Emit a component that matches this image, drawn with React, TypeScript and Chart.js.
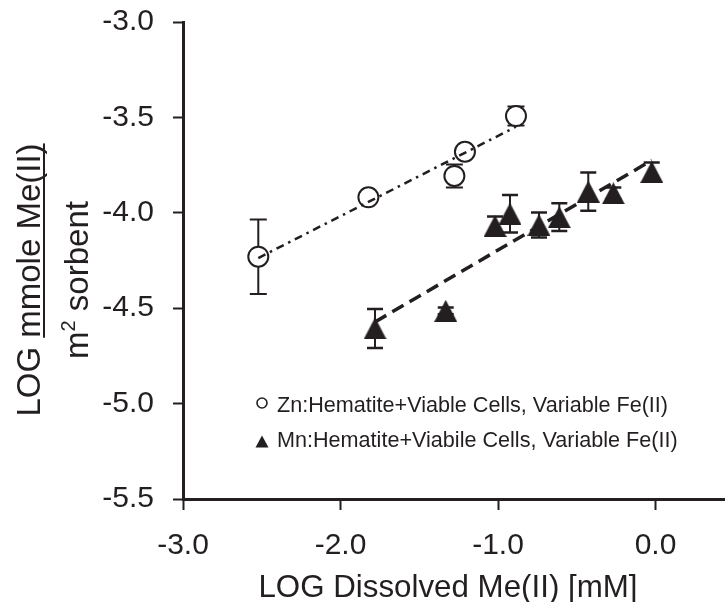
import React, { useEffect, useRef } from 'react';
import { Chart, registerables } from 'chart.js';

Chart.register(...registerables);

// ---------- data ----------
const ZN_X = [-2.522, -1.823, -1.277, -1.21, -0.886];
const ZN_Y = [-4.23, -3.919, -3.807, -3.68, -3.493];
const ZN_ERR = [0.195, 0, 0.06, 0, 0.05];

const MN_X = [-1.781, -1.332, -1.019, -0.924, -0.74, -0.611, -0.427, -0.268, -0.024];
const MN_Y = [-4.606, -4.514, -4.069, -4.005, -4.064, -4.023, -3.889, -3.898, -3.786];
const MN_ERR = [0.102, 0.018, 0.05, 0.098, 0.066, 0.073, 0.1, 0.03, 0.05];

// regression lines (end points)
const ZN_FIT_X = [-2.522, -0.886];
const ZN_FIT_Y = [-4.237, -3.549];
const MN_FIT_X = [-1.781, -0.024];
const MN_FIT_Y = [-4.572, -3.725];

const X_MIN = -3.0;
const X_MAX = 0.441;
const Y_MIN = -5.5;
const Y_MAX = -3.0;

const LEGEND_LABELS = [
  'Zn:Hematite+Viable Cells, Variable Fe(II)',
  'Mn:Hematite+Viabile Cells, Variable Fe(II)',
];
const X_TITLE = 'LOG Dissolved Me(II) [mM]';
const Y_TITLE_1A = 'LOG ';
const Y_TITLE_1B = 'mmole Me(II)';
const Y_TITLE_2A = 'm';
const Y_TITLE_2SUP = '2';
const Y_TITLE_2B = ' sorbent';

const INK = '#231f20';
const FONT = '"Liberation Sans", Arial, Helvetica, sans-serif';

function makeTriangle(w: number, h: number): HTMLCanvasElement {
  const c = document.createElement('canvas');
  c.width = w;
  c.height = h;
  const g = c.getContext('2d')!;
  g.fillStyle = INK;
  g.beginPath();
  g.moveTo(w / 2, 0);
  g.lineTo(w, h);
  g.lineTo(0, h);
  g.closePath();
  g.fill();
  return c;
}

const errorBarPlugin = {
  id: 'errorBars',
  beforeDatasetsDraw(chart: any) {
    const { ctx, scales } = chart;
    const xs = scales.x;
    const ys = scales.y;
    ctx.save();
    ctx.strokeStyle = INK;
    const draw = (X: number[], Y: number[], E: number[], cap: number, lw: number) => {
      X.forEach((xv, i) => {
        const e = E[i];
        if (!e) return;
        const px = xs.getPixelForValue(xv);
        const top = ys.getPixelForValue(Y[i] + e);
        const bot = ys.getPixelForValue(Y[i] - e);
        ctx.lineWidth = 2;
        ctx.beginPath();
        ctx.moveTo(px, top);
        ctx.lineTo(px, bot);
        ctx.stroke();
        ctx.lineWidth = lw;
        ctx.beginPath();
        ctx.moveTo(px - cap, top);
        ctx.lineTo(px + cap, top);
        ctx.moveTo(px - cap, bot);
        ctx.lineTo(px + cap, bot);
        ctx.stroke();
      });
    };
    draw(ZN_X, ZN_Y, ZN_ERR, 8.5, 2);
    draw(MN_X, MN_Y, MN_ERR, 8, 2.5);
    ctx.restore();
  },
};

const textPlugin = {
  id: 'texts',
  afterDraw(chart: any) {
    const { ctx } = chart;
    ctx.save();
    ctx.fillStyle = INK;
    ctx.strokeStyle = INK;

    // x title
    ctx.font = `31.3px ${FONT}`;
    ctx.textAlign = 'center';
    ctx.textBaseline = 'alphabetic';
    ctx.fillText(X_TITLE, 448, 597);

    // y title (rotated)
    ctx.save();
    ctx.translate(0, 280);
    ctx.rotate(-Math.PI / 2);
    ctx.textAlign = 'left';
    ctx.font = `33px ${FONT}`;
    const w1a = ctx.measureText(Y_TITLE_1A).width;
    const w1b = ctx.measureText(Y_TITLE_1B).width;
    const s1 = -(w1a + w1b) / 2;
    const b1 = 40;
    ctx.fillText(Y_TITLE_1A, s1, b1);
    ctx.fillText(Y_TITLE_1B, s1 + w1a, b1);
    ctx.fillRect(s1 + w1a, b1 + 3, w1b, 2);

    const b2 = 88;
    const w2a = ctx.measureText(Y_TITLE_2A).width;
    const w2b = ctx.measureText(Y_TITLE_2B).width;
    ctx.font = `20px ${FONT}`;
    const w2s = ctx.measureText(Y_TITLE_2SUP).width;
    const s2 = -(w2a + w2s + w2b) / 2;
    ctx.font = `33px ${FONT}`;
    ctx.fillText(Y_TITLE_2A, s2, b2);
    ctx.fillText(Y_TITLE_2B, s2 + w2a + w2s, b2);
    ctx.font = `20px ${FONT}`;
    ctx.fillText(Y_TITLE_2SUP, s2 + w2a, b2 - 13);
    ctx.restore();

    // legend
    ctx.font = `21.6px ${FONT}`;
    ctx.textAlign = 'left';
    ctx.textBaseline = 'alphabetic';
    ctx.lineWidth = 1.6;
    ctx.beginPath();
    ctx.arc(262, 403, 5, 0, Math.PI * 2);
    ctx.stroke();
    ctx.fillText(LEGEND_LABELS[0], 277, 411.5);

    ctx.beginPath();
    ctx.moveTo(262, 435.5);
    ctx.lineTo(268.5, 447.5);
    ctx.lineTo(255.5, 447.5);
    ctx.closePath();
    ctx.fill();
    ctx.fillText(LEGEND_LABELS[1], 277, 446.5);

    ctx.restore();
  },
};

export default function App() {
  const ref = useRef<HTMLCanvasElement | null>(null);

  useEffect(() => {
    document.body.style.margin = '0';
    const canvas = ref.current;
    if (!canvas) return;
    const tri = makeTriangle(23, 22);
    const pts = (X: number[], Y: number[]) => X.map((x, i) => ({ x, y: Y[i] }));

    const chart = new Chart(canvas, {
      type: 'scatter',
      data: {
        datasets: [
          {
            type: 'line',
            label: 'Zn fit',
            data: pts(ZN_FIT_X, ZN_FIT_Y),
            borderColor: INK,
            borderWidth: 2.5,
            borderDash: [8, 5, 2.5, 5],
            pointRadius: 0,
            fill: false,
            order: 0,
          } as any,
          {
            type: 'line',
            label: 'Mn fit',
            data: pts(MN_FIT_X, MN_FIT_Y),
            borderColor: INK,
            borderWidth: 3.5,
            borderDash: [13, 7],
            pointRadius: 0,
            fill: false,
            order: 0,
          } as any,
          {
            label: LEGEND_LABELS[0],
            data: pts(ZN_X, ZN_Y),
            pointStyle: 'circle',
            pointRadius: 10,
            borderWidth: 2,
            borderColor: INK,
            backgroundColor: '#ffffff',
            order: 1,
          },
          {
            label: LEGEND_LABELS[1],
            data: pts(MN_X, MN_Y),
            pointStyle: tri as any,
            pointRadius: 11,
            borderColor: INK,
            backgroundColor: INK,
            order: 1,
          },
        ],
      },
      options: {
        animation: false,
        responsive: false,
        layout: { autoPadding: false, padding: { top: 22, left: 0, right: 0, bottom: 0 } },
        plugins: {
          legend: { display: false },
          tooltip: { enabled: false },
          title: { display: false },
        },
        scales: {
          x: {
            type: 'linear',
            min: X_MIN,
            max: X_MAX,
            afterFit: (s: any) => {
              s.height = 103;
              s.paddingLeft = 0;
              s.paddingRight = 0;
            },
            border: { display: true, color: INK, width: 3 },
            grid: {
              display: true,
              drawOnChartArea: false,
              drawTicks: true,
              tickLength: 11,
              tickWidth: 2,
              tickColor: INK,
            },
            ticks: {
              stepSize: 1,
              includeBounds: false,
              padding: 18,
              color: INK,
              font: { family: FONT, size: 30 },
              maxRotation: 0,
              callback: (v: any) => Number(v).toFixed(1),
            },
          },
          y: {
            type: 'linear',
            min: Y_MIN,
            max: Y_MAX,
            afterFit: (s: any) => {
              s.width = 183;
              s.paddingTop = 0;
              s.paddingBottom = 0;
            },
            border: { display: true, color: INK, width: 3 },
            grid: {
              display: true,
              drawOnChartArea: false,
              drawTicks: true,
              tickLength: 10,
              tickWidth: 2,
              tickColor: INK,
            },
            ticks: {
              stepSize: 0.5,
              includeBounds: false,
              padding: 19,
              color: INK,
              font: { family: FONT, size: 30 },
              callback: (v: any) => Number(v).toFixed(1),
            },
          },
        },
      },
      plugins: [errorBarPlugin, textPlugin],
    });
    return () => chart.destroy();
  }, []);

  return (
    <div style={{ width: 725, height: 602, background: '#fff' }}>
      <canvas ref={ref} width={725} height={602} style={{ display: 'block' }} />
    </div>
  );
}
